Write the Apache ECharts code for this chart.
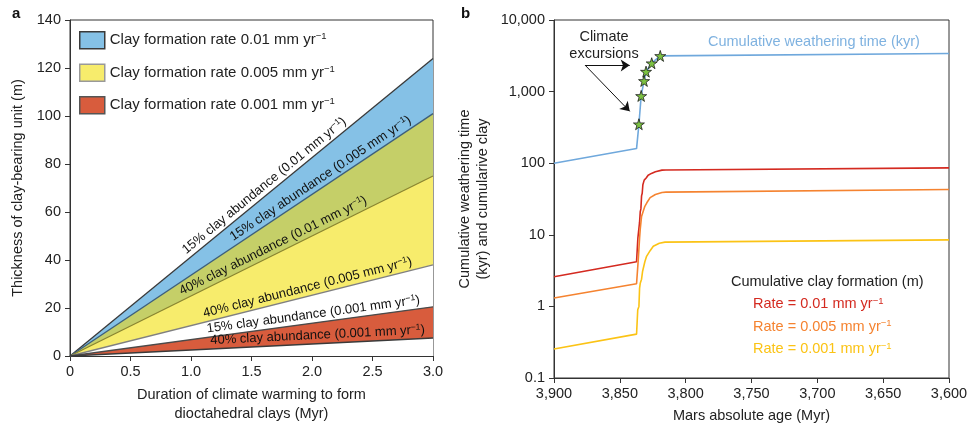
<!DOCTYPE html>
<html>
<head>
<meta charset="utf-8">
<script src="https://cdn.jsdelivr.net/npm/echarts@6/dist/echarts.min.js"></script>
<style>
  html, body { margin: 0; padding: 0; background: #fff; }
  #chart { width: 971px; height: 428px; }
</style>
</head>
<body>
<div id="chart"></div>
<script>
// ---- panel a: thickness of clay-bearing unit vs duration of warming
var durationMyr = [0, 3.0];
var thick15pct001 = [0, 124];   // 15% abundance, 0.01 mm/yr
var thick15pct0005 = [0, 101];  // 15% abundance, 0.005 mm/yr
var thick40pct001 = [0, 75];    // 40% abundance, 0.01 mm/yr
var thick40pct0005 = [0, 38];   // 40% abundance, 0.005 mm/yr
var thick15pct0001 = [0, 20.5]; // 15% abundance, 0.001 mm/yr
var thick40pct0001 = [0, 7.5];  // 40% abundance, 0.001 mm/yr

// ---- panel b: cumulative weathering time / clay vs Mars age
var weatheringTime = [[3900, 100], [3837.3, 160], [3835.5, 350], [3833.8, 870], [3831.6, 1410],
  [3830.1, 1900], [3825.8, 2490], [3819.3, 3150], [3600, 3400]];
var excursionStars = [[3835.5, 350], [3833.8, 870], [3831.6, 1410], [3830.1, 1900], [3825.8, 2490], [3819.3, 3150]];
var clayRate001 = [[3900, 2.6], [3837.3, 4.2], [3836.8, 4.3], [3836.3, 9], [3835.5, 9.5], [3835, 15],
  [3834.5, 21], [3834, 23], [3833.5, 35], [3833, 38], [3832.5, 50], [3831.5, 58], [3830, 62],
  [3828.5, 68], [3826, 72], [3823, 76], [3818, 80], [3815, 80.5], [3600, 86]];
var clayRate0005 = [[3900, 1.31], [3837.3, 2.07], [3836.6, 2.1], [3836, 4.5], [3835, 9], [3834.5, 12],
  [3833.5, 18], [3832, 22], [3831, 25], [3829.5, 28], [3827, 33], [3823, 36.5], [3818, 39],
  [3815, 39.5], [3600, 43]];
var clayRate0001 = [[3900, 0.254], [3837.3, 0.41], [3836.8, 0.42], [3836.4, 0.9], [3835.5, 1.0],
  [3835, 1.8], [3834.5, 2.1], [3833.5, 2.4], [3832.7, 3.1], [3831, 4.2], [3829.7, 5], [3827, 6],
  [3824.6, 6.9], [3820, 7.6], [3815.7, 7.9], [3600, 8.5]];

var FONT = '"Liberation Sans", Arial, Helvetica, sans-serif';
var INK = '#222';
var STAR = 'path://M50,0 L61,35 L98,35 L68,57 L79,91 L50,70 L21,91 L32,57 L2,35 L39,35 Z';

function sup(base, key, supKey) {
  return '{' + key + '|' + base + '}{' + supKey + '|−1}';
}

function lineData(ys) {
  return durationMyr.map(function (d, i) { return [d, ys[i]]; });
}

function bandSeries(name, ys, fill, stroke, z) {
  return {
    name: name, type: 'line', xAxisIndex: 0, yAxisIndex: 0,
    data: lineData(ys), symbol: 'none', z: z, color: fill,
    lineStyle: { color: stroke, width: 1.3 },
    areaStyle: { color: fill, opacity: 1 }
  };
}

var chart = echarts.init(document.getElementById('chart'));

var option = {
  animation: false,
  textStyle: { fontFamily: FONT },
  grid: [
    { left: 70, top: 20, width: 363, height: 340, show: true, borderColor: '#333', borderWidth: 1 },
    { left: 554, top: 20, width: 395, height: 358, show: true, borderColor: '#333', borderWidth: 1 }
  ],
  legend: [{
    data: [
      { name: 'Clay formation rate 0.01 mm yr', itemStyle: { color: '#85c1e6', borderColor: '#3a3a3a', borderWidth: 1.5 } },
      { name: 'Clay formation rate 0.005 mm yr', itemStyle: { color: '#f7ec6c', borderColor: '#999', borderWidth: 1.5 } },
      { name: 'Clay formation rate 0.001 mm yr', itemStyle: { color: '#d85c3d', borderColor: '#555', borderWidth: 1.5 } }
    ],
    orient: 'vertical', left: 79, top: 31, padding: 0,
    itemWidth: 25, itemHeight: 17, itemGap: 14, icon: 'rect', selectedMode: false,
    formatter: function (n) { return sup(n, 't', 's'); },
    textStyle: {
      color: INK, fontSize: 15,
      rich: {
        t: { fontSize: 15, color: INK, lineHeight: 17, fontFamily: FONT },
        s: { fontSize: 9.5, color: INK, lineHeight: 10, verticalAlign: 'top', fontFamily: FONT }
      }
    }
  }, {
    data: ['Rate = 0.01 mm yr', 'Rate = 0.005 mm yr', 'Rate = 0.001 mm yr'],
    orient: 'vertical', left: 748, top: 296, padding: 0,
    itemWidth: 0, itemHeight: 14, itemGap: 7, icon: 'none', selectedMode: false,
    formatter: function (n) {
      var k = n.indexOf('0.01') > 0 ? 'r' : (n.indexOf('0.005') > 0 ? 'o' : 'y');
      return sup(n, k, k + 's');
    },
    textStyle: {
      fontSize: 14.5,
      rich: {
        r: { fontSize: 14.5, color: '#d42a20', lineHeight: 16, fontFamily: FONT },
        rs: { fontSize: 9.5, color: '#d42a20', lineHeight: 10, verticalAlign: 'top', fontFamily: FONT },
        o: { fontSize: 14.5, color: '#f58330', lineHeight: 16, fontFamily: FONT },
        os: { fontSize: 9.5, color: '#f58330', lineHeight: 10, verticalAlign: 'top', fontFamily: FONT },
        y: { fontSize: 14.5, color: '#fbc315', lineHeight: 16, fontFamily: FONT },
        ys: { fontSize: 9.5, color: '#fbc315', lineHeight: 10, verticalAlign: 'top', fontFamily: FONT }
      }
    }
  }],
  xAxis: [{
    gridIndex: 0, type: 'value', min: 0, max: 3, interval: 0.5,
    name: 'Duration of climate warming to form\ndioctahedral clays (Myr)',
    nameLocation: 'middle', nameGap: 29,
    nameTextStyle: { color: INK, fontSize: 14.5, lineHeight: 19 },
    axisLine: { lineStyle: { color: '#333' } },
    axisTick: { length: 5, lineStyle: { color: '#333' } },
    axisLabel: { color: INK, fontSize: 14.5, margin: 8,
      formatter: function (v) { return v === 0 ? '0' : v.toFixed(1); } },
    splitLine: { show: false }
  }, {
    gridIndex: 1, type: 'value', min: 3600, max: 3900, interval: 50, inverse: true,
    name: 'Mars absolute age (Myr)', nameLocation: 'middle', nameGap: 30,
    nameTextStyle: { color: INK, fontSize: 14.5 },
    axisLine: { lineStyle: { color: '#333' } },
    axisTick: { length: 5, lineStyle: { color: '#333' } },
    axisLabel: { color: INK, fontSize: 14.5, margin: 8,
      formatter: function (v) { return v.toLocaleString('en-US'); } },
    splitLine: { show: false }
  }],
  yAxis: [{
    gridIndex: 0, type: 'value', min: 0, max: 140, interval: 20,
    name: 'Thickness of clay-bearing unit (m)', nameLocation: 'middle', nameGap: 45,
    nameTextStyle: { color: INK, fontSize: 14.5 },
    axisLine: { show: true, lineStyle: { color: '#333' } },
    axisTick: { show: true, length: 5, lineStyle: { color: '#333' } },
    axisLabel: { color: INK, fontSize: 14.5, margin: 9 },
    splitLine: { show: false }
  }, {
    gridIndex: 1, type: 'log', logBase: 10, min: 0.1, max: 10000,
    name: 'Cumulative weathering time\n(kyr) and cumularive clay', nameLocation: 'middle', nameGap: 62,
    nameTextStyle: { color: INK, fontSize: 14.5, lineHeight: 18 },
    axisLine: { show: true, lineStyle: { color: '#333' } },
    axisTick: { show: true, length: 5, lineStyle: { color: '#333' } },
    minorTick: { show: false },
    axisLabel: { color: INK, fontSize: 14.5, margin: 9,
      formatter: function (v) {
        var r = Math.round(v * 10) / 10;
        return r >= 1000 ? r.toLocaleString('en-US') : String(r);
      } },
    splitLine: { show: false }
  }],
  series: [
    bandSeries('Clay formation rate 0.01 mm yr', thick15pct001, '#85c1e6', '#3a3a3a', 2),
    bandSeries('overlap', thick15pct0005, '#c5cf68', '#3d5f7c', 3),
    bandSeries('Clay formation rate 0.005 mm yr', thick40pct001, '#f7ec6c', '#8a8530', 4),
    bandSeries('gap', thick40pct0005, '#ffffff', '#808080', 5),
    bandSeries('Clay formation rate 0.001 mm yr', thick15pct0001, '#d85c3d', '#4a4a4a', 6),
    bandSeries('below', thick40pct0001, '#ffffff', '#3a3a3a', 7),
    {
      name: 'Cumulative weathering time (kyr)', type: 'line', xAxisIndex: 1, yAxisIndex: 1,
      data: weatheringTime, symbol: 'none', lineStyle: { color: '#6fa8dc', width: 1.6 }, z: 3,
      markLine: {
        silent: true, symbol: ['none', 'arrow'], symbolSize: 9,
        label: { show: false },
        lineStyle: { color: '#111', width: 1, type: 'solid' },
        emphasis: { disabled: true },
        data: [
          [{ coord: [3876.5, 2300], symbol: 'none' }, { coord: [3842.5, 2330], symbol: 'arrow', symbolSize: 9 }],
          [{ coord: [3876, 2300], symbol: 'none' }, { coord: [3842.5, 530], symbol: 'arrow', symbolSize: 9 }]
        ]
      }
    },
    {
      name: 'Rate = 0.01 mm yr', type: 'line', xAxisIndex: 1, yAxisIndex: 1,
      data: clayRate001, symbol: 'none', color: '#d42a20', lineStyle: { color: '#d42a20', width: 1.6 }
    },
    {
      name: 'Rate = 0.005 mm yr', type: 'line', xAxisIndex: 1, yAxisIndex: 1,
      data: clayRate0005, symbol: 'none', color: '#f58330', lineStyle: { color: '#f58330', width: 1.6 }
    },
    {
      name: 'Rate = 0.001 mm yr', type: 'line', xAxisIndex: 1, yAxisIndex: 1,
      data: clayRate0001, symbol: 'none', color: '#fbc315', lineStyle: { color: '#fbc315', width: 1.6 }
    },
    {
      name: 'excursions', type: 'scatter', xAxisIndex: 1, yAxisIndex: 1, z: 5,
      data: excursionStars, symbol: STAR, symbolSize: 11,
      itemStyle: { color: '#7cc242', borderColor: '#1a1a1a', borderWidth: 0.8, opacity: 1 }
    }
  ]
};

chart.setOption(option);

// labels along the lines of panel a
var lineLabels = [
  { ys: thick15pct001, cx: 1.65, txt: '15% clay abundance (0.01 mm yr' },
  { ys: thick15pct0005, cx: 2.11, txt: '15% clay abundance (0.005 mm yr' },
  { ys: thick40pct001, cx: 1.71, txt: '40% clay abundance (0.01 mm yr' },
  { ys: thick40pct0005, cx: 1.98, txt: '40% clay abundance (0.005 mm yr' },
  { ys: thick15pct0001, cx: 2.02, txt: '15% clay abundance (0.001 mm yr' },
  { ys: thick40pct0001, cx: 2.05, txt: '40% clay abundance (0.001 mm yr' }
];

var graphics = [
  { type: 'text', left: 12, top: 6, style: { text: 'a', fontSize: 15, fontWeight: 'bold', fill: '#111', fontFamily: FONT } },
  { type: 'text', left: 461, top: 6, style: { text: 'b', fontSize: 15, fontWeight: 'bold', fill: '#111', fontFamily: FONT } },
  { type: 'text', x: 708, y: 42, style: { text: 'Cumulative weathering time (kyr)', fontSize: 14.5, fill: '#7fb2e0', fontFamily: FONT, verticalAlign: 'middle' } },
  { type: 'text', x: 731, y: 282, style: { text: 'Cumulative clay formation (m)', fontSize: 14.5, fill: INK, fontFamily: FONT, verticalAlign: 'middle' } },
  { type: 'text', x: 604, y: 45, style: { text: 'Climate\nexcursions', fontSize: 14.5, lineHeight: 17, fill: INK, fontFamily: FONT, align: 'center', verticalAlign: 'middle' } }
];

lineLabels.forEach(function (l) {
  var p0 = chart.convertToPixel({ gridIndex: 0 }, [durationMyr[0], l.ys[0]]);
  var p1 = chart.convertToPixel({ gridIndex: 0 }, [durationMyr[1], l.ys[1]]);
  var yAt = l.ys[0] + (l.ys[1] - l.ys[0]) * (l.cx - durationMyr[0]) / (durationMyr[1] - durationMyr[0]);
  var pc = chart.convertToPixel({ gridIndex: 0 }, [l.cx, yAt]);
  var ang = Math.atan2(p0[1] - p1[1], p1[0] - p0[0]);
  graphics.push({
    type: 'text', x: pc[0], y: pc[1], rotation: ang, z: 100,
    style: {
      text: sup(l.txt, 'n', 's') + '{n|)}',
      x: 0, y: -1, align: 'center', verticalAlign: 'bottom',
      rich: {
        n: { fontSize: 13, lineHeight: 15, fill: '#111', fontFamily: FONT },
        s: { fontSize: 8.5, lineHeight: 9, fill: '#111', verticalAlign: 'top', fontFamily: FONT }
      }
    }
  });
});

chart.setOption({ graphic: graphics });
</script>
</body>
</html>
